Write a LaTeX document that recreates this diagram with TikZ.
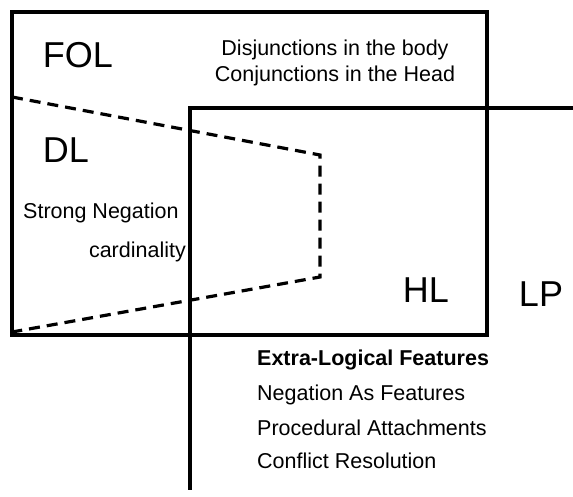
\documentclass[tikz,border=0pt]{standalone}
\usepackage{fontspec}
\setmainfont{Liberation Sans}
\usetikzlibrary{positioning}
\tikzset{frame/.style={draw,line width=3.2pt}}
\tikzset{fence/.style={draw,line width=3.2pt,dash pattern=on 11pt off 7pt}}
\tikzset{big/.style={font=\fontsize{36}{40}\selectfont,inner sep=0pt}}
\tikzset{note/.style={font=\fontsize{21.5}{26}\selectfont,inner sep=0pt}}

\begin{document}
\begin{tikzpicture}[x=1pt,y=-1pt]
    \useasboundingbox (0,0) rectangle (573,497);

    % corners of the regions
    \coordinate (fol nw) at (12,12);
    \coordinate (fol se) at (487,335);
    \coordinate (lp east) at (573,108);
    \coordinate (lp corner) at (190,108);
    \coordinate (lp south) at (190,490);
    \coordinate (dl top) at (12,97);
    \coordinate (dl ne) at (320,155);
    \coordinate (dl se) at (320,277);
    \coordinate (dl bottom) at (12,332);

        \draw[frame] (fol nw) rectangle (fol se);
        \draw[frame] (lp east) -- (lp corner) -- (lp south);
        \draw[fence] (dl top) -- (dl ne) -- (dl se) -- (dl bottom);

     \node[big] (fol) at (78,55) {FOL};
     \node[big] (dl) at (66,150) {DL};
     \node[big] (hl) at (426,290) {HL};
     \node[big] (lp) at (541,294) {LP};

     \node[note,align=center] (folrules) at (335,63) {Disjunctions in the body\\Conjunctions in the Head};
     \node[note,anchor=west] (strongneg) at (23,213) {Strong Negation};
     \node[note,anchor=east] (card) at (186,252) {cardinality};

     \node[note,anchor=base west,font=\fontsize{21.5}{26}\selectfont\bfseries] (xlf) at (257,365) {Extra-Logical Features};
     \node[note,below=35pt of xlf.base west,anchor=base west] (naf) {Negation As Features};
     \node[note,below=35pt of naf.base west,anchor=base west] (proc) {Procedural Attachments};
     \node[note,below=33pt of proc.base west,anchor=base west] (conf) {Conflict Resolution};
  \end{tikzpicture}
\end{document}
